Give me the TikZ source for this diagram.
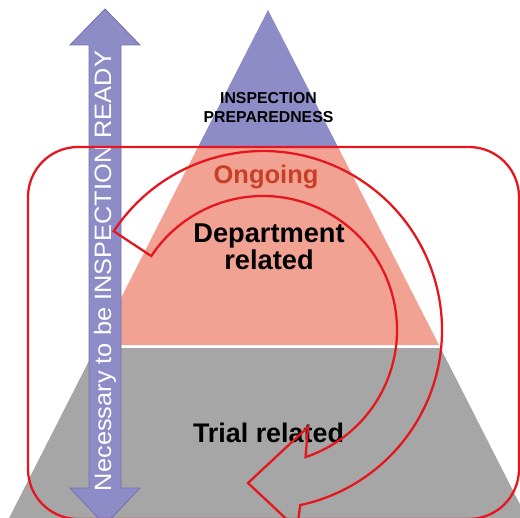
\documentclass[tikz,border=0pt]{standalone}
\usepackage{fontspec}
\setmainfont{Liberation Sans}
\newfontfamily\vertfont[FakeStretch=1.07]{Liberation Sans}
\usetikzlibrary{calc}
\definecolor{pyrpurple}{RGB}{142,140,198}
\definecolor{pyrpink}{RGB}{242,162,147}
\definecolor{pyrgray}{RGB}{166,166,166}
\definecolor{linered}{RGB}{230,22,30}
\definecolor{ongoingred}{RGB}{200,62,38}
\definecolor{arrowedge}{RGB}{118,114,176}
\tikzset{
  redline/.style={draw=linered, line width=1.3pt, line join=miter},
  lbl/.style={font=\bfseries, align=center, inner sep=0pt},
}
\begin{document}
\begin{tikzpicture}[x=0.02cm,y=-0.02cm]
\useasboundingbox (0,0) rectangle (520,517);
\clip (0,0) rectangle (520,517);
% pyramid bands
\fill[pyrpurple] (268,10) -- (338,147) -- (198,147) -- cycle;
\fill[pyrpink] (198,147) -- (338,147) -- (439,345) -- (97,345) -- cycle;
\fill[pyrgray] (95.5,348) -- (440.5,348) -- (533,530) -- (3,530) -- cycle;
% vertical double arrow
\fill[pyrpurple, draw=arrowedge, line width=0.5pt]
  (105,9) -- (140,45) -- (121,45) -- (121,488) -- (140,488) -- (105,525)
  -- (70,488) -- (89,488) -- (89,45) -- (70,45) -- cycle;
\node[text=white, rotate=90, font=\vertfont\fontsize{13.5}{16}\selectfont, inner sep=0pt]
  (ready) at (105,271) {Necessary to be INSPECTION READY};
% labels
\node[lbl, font=\bfseries\fontsize{9}{10.8}\selectfont] (prep) at (268.5,108) {INSPECTION\\PREPAREDNESS};
\node[lbl, text=ongoingred, font=\bfseries\fontsize{14.5}{16}\selectfont, anchor=base] (ongoing) at (266,183) {Ongoing};
\node[lbl, font=\bfseries\fontsize{15.5}{15.5}\selectfont] (dept) at (269,247) {Department\\related};
\node[lbl, font=\bfseries\fontsize{15.3}{16}\selectfont, anchor=base] (trial) at (268.5,442) {Trial related};
% red rounded frame
\draw[redline, rounded corners=1cm] (28,147) rectangle (519,519);
% circular arrow
\coordinate (C) at (263,330);
\draw[redline] ($(C)+(-146.5:179)$) arc[start angle=-146.5, end angle=78, radius=179]
  -- (297,529) -- (248,483) -- (308,427) -- ($(C)+(71.5:134)$)
  arc[start angle=71.5, end angle=-146.5, radius=134] -- cycle;
\end{tikzpicture}
\end{document}
